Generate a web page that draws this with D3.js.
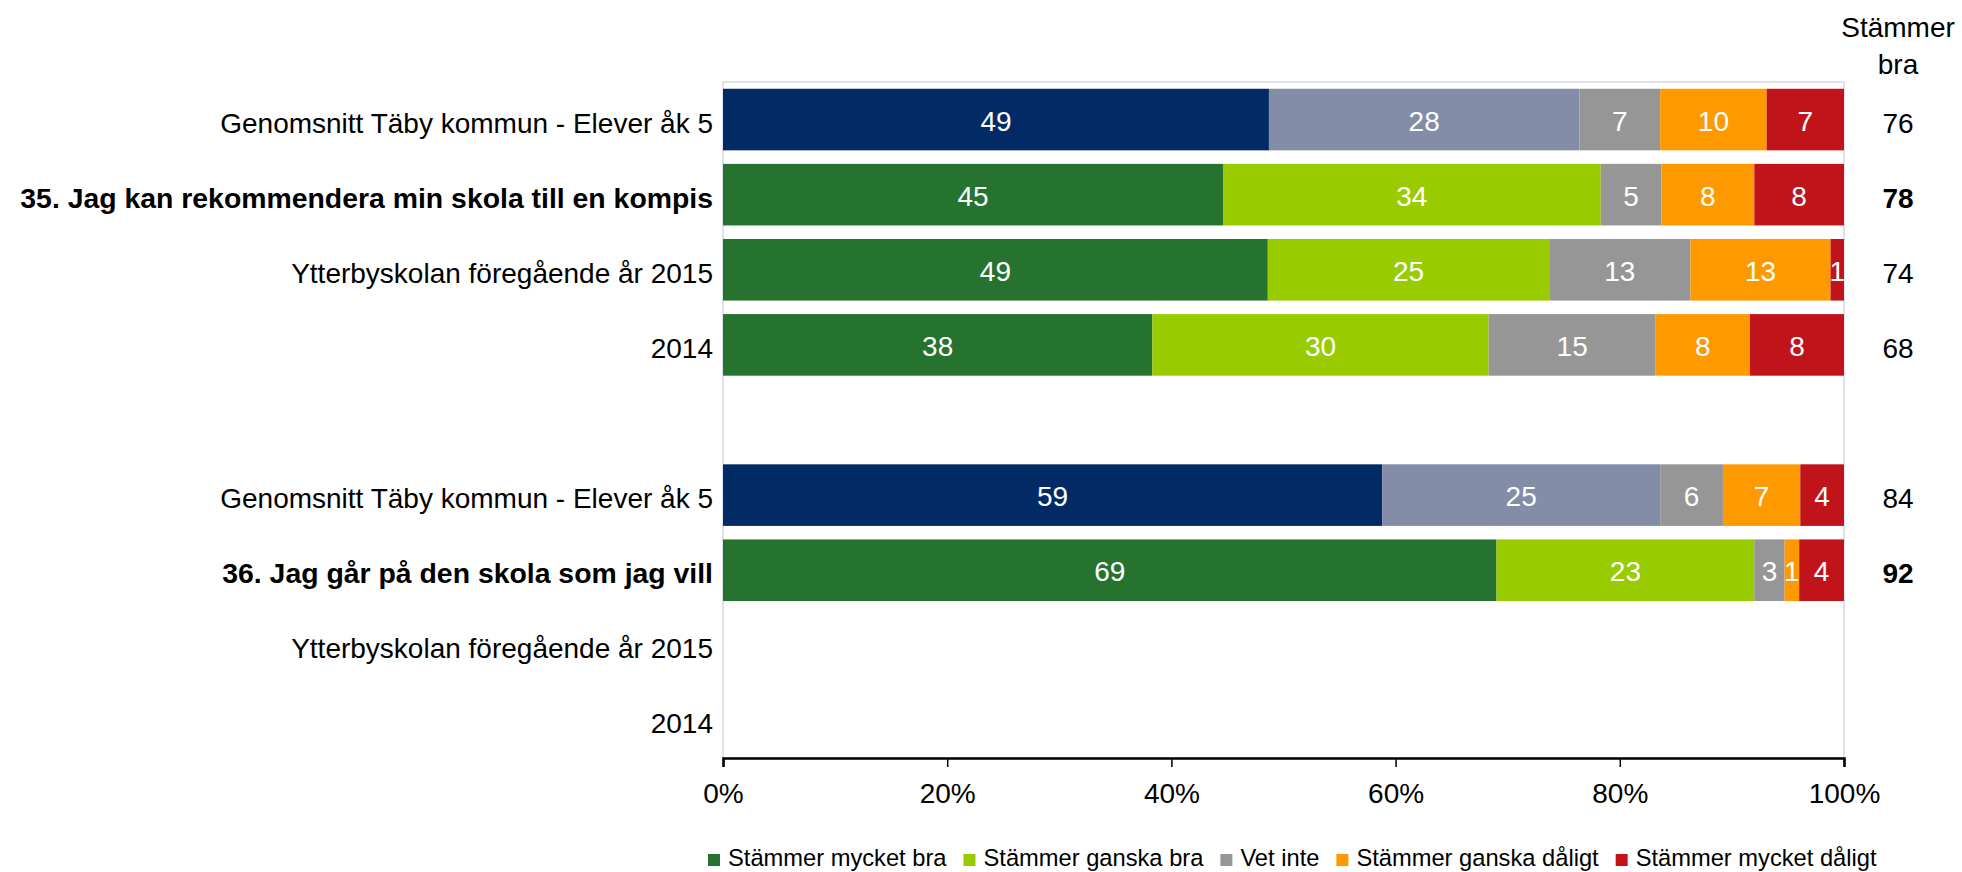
<!DOCTYPE html>
<html>
<head>
<meta charset="utf-8">
<script src="https://cdn.jsdelivr.net/npm/d3@7"></script>
<style>
  html, body { margin: 0; padding: 0; background: #fff; }
  svg { display: block; font-family: "Liberation Sans", Arial, sans-serif; }
</style>
</head>
<body>
<svg id="chart" width="1962" height="872"></svg>
<script>
// ---- data ----
const categories = [
  "Genomsnitt Täby kommun - Elever åk 5",
  "35. Jag kan rekommendera min skola till en kompis",
  "Ytterbyskolan föregående år 2015",
  "2014",
  "",
  "Genomsnitt Täby kommun - Elever åk 5",
  "36. Jag går på den skola som jag vill",
  "Ytterbyskolan föregående år 2015",
  "2014"
];
const boldRows = [false, true, false, false, false, false, true, false, false];
const kommunRows = [true, false, false, false, false, true, false, false, false];
const seriesNames = ["Stämmer mycket bra", "Stämmer ganska bra", "Vet inte", "Stämmer ganska dåligt", "Stämmer mycket dåligt"];
const mycketBra    = [48.7, 44.6, 48.6, 38.3, null, 58.8, 69.0, 0, 0];
const ganskaBra    = [27.7, 33.7, 25.1, 30.0, null, 24.8, 23.0, 0, 0];
const vetInte      = [7.2,  5.4,  12.6, 14.9, null, 5.6,  2.7,  0, 0];
const ganskaDaligt = [9.5,  8.3,  12.5, 8.4,  null, 6.9,  1.3,  0, 0];
const mycketDaligt = [6.9,  8.0,  1.2,  8.4,  null, 3.9,  4.0,  0, 0];
const stammerBra   = ["76", "78", "74", "68", "", "84", "92", "", ""];
const stammerBraTitle = ["Stämmer", "bra"];
const tickValues = [0, 20, 40, 60, 80, 100];

// ---- styles ----
const colors = ["#26732F", "#99CC00", "#969696", "#FF9900", "#C0141A"];
const kommunColors = ["#022B65", "#838DA7", "#969696", "#FF9900", "#C0141A"];

const svg = d3.select("#chart");
const plotLeft = 723, plotRight = 1844, plotTop = 82, plotBottom = 758;

const x = d3.scaleLinear().domain([0, 100]).range([plotLeft, plotRight]);
const y = d3.scaleBand().domain(d3.range(categories.length)).range([plotTop, plotBottom])
  .paddingInner(0.18).paddingOuter(0.09);

// plot area border
svg.append("rect")
  .attr("x", plotLeft).attr("y", plotTop)
  .attr("width", plotRight - plotLeft).attr("height", plotBottom - plotTop)
  .attr("fill", "none").attr("stroke", "#D6D8E2").attr("stroke-width", 1.5);

const series = [mycketBra, ganskaBra, vetInte, ganskaDaligt, mycketDaligt];
const segs = [];
categories.forEach((c, i) => {
  if (series[0][i] === null) return;
  let acc = 0;
  series.forEach((s, k) => {
    const v = s[i];
    segs.push({ row: i, k, v, x0: acc, x1: acc + v });
    acc += v;
  });
});

const g = svg.append("g");
g.selectAll("rect.seg").data(segs).enter().append("rect")
  .attr("class", "seg")
  .attr("x", d => x(d.x0))
  .attr("y", d => y(d.row))
  .attr("width", d => x(d.x1) - x(d.x0))
  .attr("height", y.bandwidth())
  .attr("fill", d => (kommunRows[d.row] ? kommunColors : colors)[d.k])
  .attr("stroke", d => d.v === 0 ? "#fff" : "none")
  .attr("stroke-width", 2);

g.selectAll("text.val").data(segs.filter(d => d.v > 0)).enter().append("text")
  .attr("class", "val")
  .attr("x", d => x((d.x0 + d.x1) / 2))
  .attr("y", d => y(d.row) + y.bandwidth() / 2 + 11)
  .attr("text-anchor", "middle")
  .attr("fill", "#fff")
  .attr("font-size", 28)
  .text(d => Math.round(d.v));

// category labels
svg.selectAll("text.cat").data(categories).enter().append("text")
  .attr("class", "cat")
  .attr("x", plotLeft - 10)
  .attr("y", (d, i) => y(i) + y.bandwidth() / 2 + 13)
  .attr("text-anchor", "end")
  .attr("font-size", (d, i) => boldRows[i] ? 28.4 : 28)
  .attr("font-weight", (d, i) => boldRows[i] ? "bold" : "normal")
  .attr("fill", "#000")
  .text(d => d);

// right column
svg.selectAll("text.sb").data(stammerBra).enter().append("text")
  .attr("class", "sb")
  .attr("x", 1898)
  .attr("y", (d, i) => y(i) + y.bandwidth() / 2 + 13)
  .attr("text-anchor", "middle")
  .attr("font-size", 28)
  .attr("font-weight", (d, i) => boldRows[i] ? "bold" : "normal")
  .text(d => d);
svg.selectAll("text.sbt").data(stammerBraTitle).enter().append("text")
  .attr("class", "sbt")
  .attr("x", 1898)
  .attr("y", (d, i) => 37 + i * 37)
  .attr("text-anchor", "middle")
  .attr("font-size", 28)
  .text(d => d);

// x axis
const axis = d3.axisBottom(x).tickValues(tickValues).tickFormat(d => d + "%").tickSize(9).tickSizeOuter(9);
const ax = svg.append("g").attr("transform", `translate(0,${plotBottom})`).call(axis);
ax.select(".domain").attr("stroke", "#000").attr("stroke-width", 2.5);
ax.selectAll(".tick line").attr("stroke", "#000").attr("stroke-width", 1.5);
ax.selectAll(".tick text")
  .attr("y", 45).attr("dy", 0)
  .attr("font-size", 28)
  .attr("font-family", "'Liberation Sans', Arial, sans-serif")
  .attr("fill", "#000");

// legend
const legend = svg.append("g").attr("transform", "translate(708,0)");
let lx = 0;
seriesNames.forEach((name, k) => {
  const item = legend.append("g").attr("transform", `translate(${lx},0)`);
  item.append("rect").attr("x", 0).attr("y", 854).attr("width", 12).attr("height", 12).attr("fill", colors[k]);
  const t = item.append("text").attr("x", 20).attr("y", 866).attr("font-size", 23.7).attr("fill", "#000").text(name);
  lx += 20 + t.node().getComputedTextLength() + 17;
});
</script>
</body>
</html>
